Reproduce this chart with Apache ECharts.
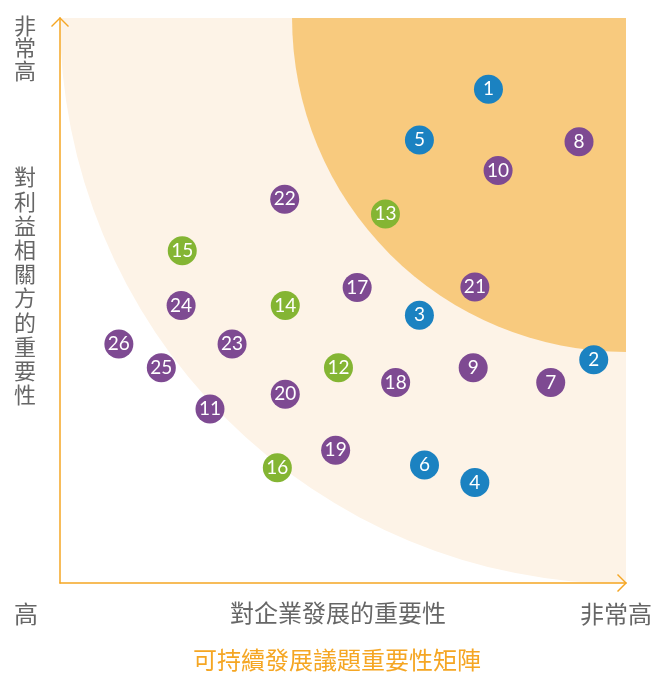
<!DOCTYPE html>
<html>
<head>
<meta charset="utf-8">
<script src="https://cdn.jsdelivr.net/npm/echarts@6/dist/echarts.min.js"></script>
<style>
  html, body { margin: 0; padding: 0; background: #fff; }
  #chart { width: 651px; height: 674px; }
</style>
</head>
<body>
<div id="chart"></div>
<script>
// issue positions: [business importance, stakeholder importance, issue number]
var blueIssues = [
  [7.57, 8.74, 1], [9.43, 3.95, 2], [6.35, 4.74, 3],
  [7.33, 1.78, 4], [6.35, 7.84, 5], [6.44, 2.09, 6]
];
var purpleIssues = [
  [8.67, 3.55, 7], [9.17, 7.81, 8], [7.30, 3.81, 9], [7.74, 7.30, 10],
  [2.65, 3.08, 11], [5.25, 5.23, 17], [5.93, 3.55, 18], [4.87, 2.35, 19],
  [3.98, 3.34, 20], [7.33, 5.24, 21], [3.97, 6.79, 22], [3.04, 4.23, 23],
  [2.14, 4.91, 24], [1.79, 3.81, 25], [1.04, 4.23, 26]
];
var greenIssues = [
  [4.92, 3.81, 12], [5.75, 6.53, 13], [3.98, 4.91, 14],
  [2.16, 5.88, 15], [3.84, 2.04, 16]
];
// background zones: quarter circles around the top-right corner
var zoneCenter = [10, 10];
var zoneRadius = [10, 5.9];

var orange = "#f5a623";
var gray = "#666666";
var cjk = "'Noto Sans CJK TC', 'Noto Sans', sans-serif";
var chevron = "path://M0,9 L9,0 L18,9 L17,10 L9,2 L1,10 Z";

var chart = echarts.init(document.getElementById("chart"));

function dots(data, color) {
  return {
    type: "scatter",
    data: data,
    symbolSize: 29,
    z: 5,
    itemStyle: { color: color, opacity: 1 },
    label: {
      show: true,
      position: "inside",
      formatter: function (p) {
        return p.value[2];
      },
      color: "#fff",
      fontSize: 19,
      fontFamily: "Lato, 'Noto Sans', sans-serif",
    },
  };
}

function axisLook() {
  return {
    type: "value",
    min: 0,
    max: 10,
    z: 10,
    splitLine: { show: false },
    axisTick: { show: false },
    axisLabel: { show: false },
    axisLine: {
      show: true,
      symbol: ["none", chevron],
      symbolSize: [18, 10],
      symbolOffset: [0, -4],
      lineStyle: { color: orange, width: 1.5 },
    },
  };
}

function label(text, left, top, size, color, lineHeight) {
  return {
    text: text,
    left: left,
    top: top,
    padding: 0,
    textStyle: {
      color: color,
      fontSize: size,
      lineHeight: lineHeight || size * 1.2,
      fontWeight: "normal",
      fontFamily: cjk,
    },
  };
}

var option = {
  animation: false,
  title: [
    label("非\n常\n高", 14, 14, 22, gray, 22.5),
    label("對\n利\n益\n相\n關\n方\n的\n重\n要\n性", 14, 165, 22, gray, 24.2),
    label("高", 14, 599, 24, gray),
    label("對企業發展的重要性", 230, 598, 24, gray),
    label("非常高", 580, 599, 24, gray),
    label("可持續發展議題重要性矩陣", 193, 645, 24, orange),
  ],
  grid: { left: 60, top: 18, width: 566, height: 565 },
  xAxis: axisLook(),
  yAxis: axisLook(),
  series: [
    {
      type: "custom",
      z: 1,
      silent: true,
      data: zoneRadius.map(function (r) {
        return [zoneCenter[0], zoneCenter[1], r];
      }),
      renderItem: function (params, api) {
        var c = api.coord([api.value(0), api.value(1)]);
        var edge = api.coord([api.value(0) - api.value(2), api.value(1)]);
        var r = c[0] - edge[0];
        return {
          type: "sector",
          shape: {
            cx: c[0],
            cy: c[1],
            r: r,
            r0: 0,
            startAngle: Math.PI / 2,
            endAngle: Math.PI,
            clockwise: true,
          },
          style: { fill: params.dataIndex === 0 ? "#fdf3e7" : "#f8ca7e" },
        };
      },
    },
    dots(blueIssues, "#1b82c1"),
    dots(purpleIssues, "#7e4a92"),
    dots(greenIssues, "#84b533"),
  ],
};

chart.setOption(option);
</script>
</body>
</html>
